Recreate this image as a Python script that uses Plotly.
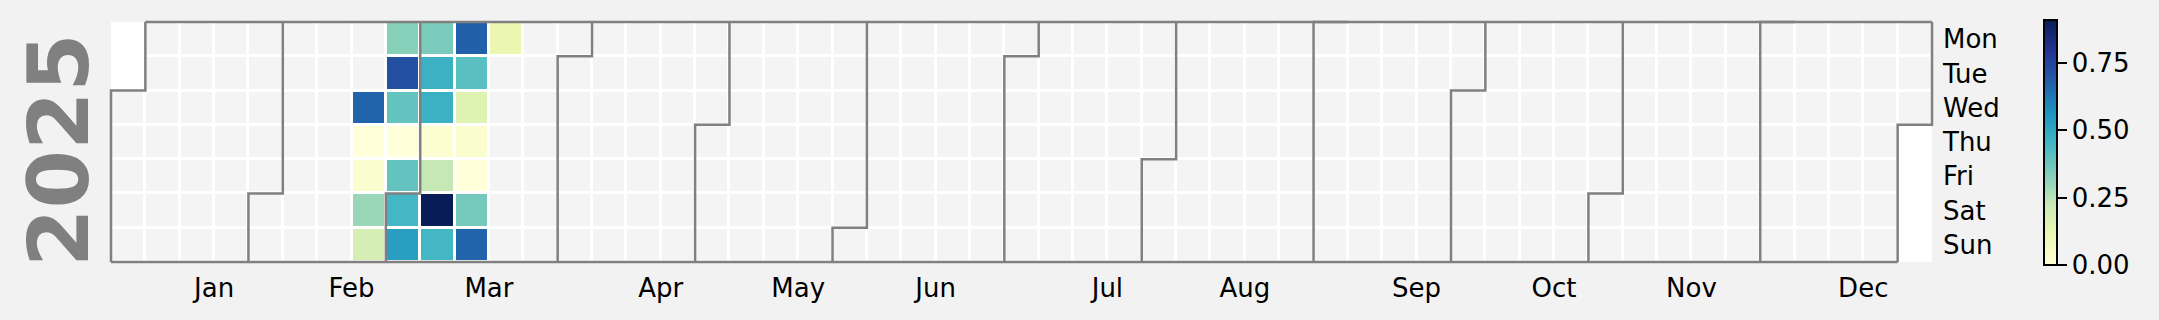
import numpy as np
import pandas as pd
import plotly.graph_objects as go

# ---- data ----
year = 2025
dates = ["2025-02-19", "2025-02-20", "2025-02-21", "2025-02-22", "2025-02-23",
         "2025-02-24", "2025-02-25", "2025-02-26", "2025-02-27", "2025-02-28",
         "2025-03-01", "2025-03-02", "2025-03-03", "2025-03-04", "2025-03-05",
         "2025-03-06", "2025-03-07", "2025-03-08", "2025-03-09", "2025-03-10",
         "2025-03-11", "2025-03-12", "2025-03-13", "2025-03-14", "2025-03-15",
         "2025-03-16", "2025-03-17"]
values = [0.67, 0.00, 0.03, 0.30, 0.19,
          0.33, 0.72, 0.39, 0.00, 0.39,
          0.45, 0.53, 0.35, 0.47, 0.47,
          0.02, 0.23, 0.91, 0.45, 0.68,
          0.41, 0.16, 0.03, 0.00, 0.36,
          0.67, 0.12]
day_labels = ["Mon", "Tue", "Wed", "Thu", "Fri", "Sat", "Sun"]
month_labels = ["Jan", "Feb", "Mar", "Apr", "May", "Jun",
                "Jul", "Aug", "Sep", "Oct", "Nov", "Dec"]
cbar_ticks = [0.0, 0.25, 0.5, 0.75]
ylgnbu = ["#ffffd9", "#edf8b1", "#c7e9b4", "#7fcdbb", "#41b6c4",
          "#1d91c0", "#225ea8", "#253494", "#081d58"]

# ---- calendar geometry ----
jan1 = pd.Timestamp(year, 1, 1)
dec31 = pd.Timestamp(year, 12, 31)
start_monday = jan1 - pd.Timedelta(days=jan1.weekday())


def col(d):
    return (d - start_monday).days // 7


ncols = col(dec31) + 1
all_days = pd.date_range(jan1, dec31, freq="D")

base = np.full((7, ncols), np.nan)
for d in all_days:
    base[d.weekday(), col(d)] = 1.0

data = np.full((7, ncols), np.nan)
for ds, v in zip(dates, values):
    d = pd.Timestamp(ds)
    data[d.weekday(), col(d)] = v

xs = list(range(ncols))
ys = list(range(7))

# month boundary lines
lx, ly = [], []
for m in range(1, 13):
    first = pd.Timestamp(year, m, 1)
    c, w = col(first), first.weekday()
    lx += [c - 0.5, c - 0.5, c + 0.5, c + 0.5, None]
    ly += [6.5, w - 0.5, w - 0.5, -0.5, None]
c, w = col(dec31), dec31.weekday()
lx += [c + 0.5, c + 0.5, c - 0.5, c - 0.5, None]
ly += [-0.5, w + 0.5, w + 0.5, 6.5, None]
top_start = col(jan1) - 0.5 + (1 if jan1.weekday() > 0 else 0)
lx += [top_start, col(dec31) + 0.5, None]
ly += [-0.5, -0.5, None]
bot_end = col(dec31) - 0.5 + (1 if dec31.weekday() == 6 else 0)
lx += [-0.5, bot_end, None]
ly += [6.5, 6.5, None]

month_ticks = [col(pd.Timestamp(year, m, 15)) + 0.5 for m in range(1, 13)]

# ---- pixel layout ----
W, H = 2159, 320
grid_l, grid_r, grid_t, grid_b = 111, 1932, 22, 262
pad = 4
px_x = (grid_r - grid_l) / ncols
px_y = (grid_b - grid_t) / 7
ml, mr, mt, mb = grid_l - pad, W - grid_r - pad, grid_t - pad, H - grid_b - pad
pw = W - ml - mr
ph = H - mt - mb

font = "DejaVu Sans"
cs = [[i / (len(ylgnbu) - 1), c_] for i, c_ in enumerate(ylgnbu)]

fig = go.Figure()
fig.add_trace(go.Heatmap(
    z=base, x=xs, y=ys, colorscale=[[0, "#f4f4f4"], [1, "#f4f4f4"]],
    showscale=False, xgap=3, ygap=3, hoverinfo="skip"))
fig.add_trace(go.Heatmap(
    z=data, x=xs, y=ys, colorscale=cs, zmin=0, zmax=max(values),
    xgap=3, ygap=3,
    colorbar=dict(
        thickness=13, len=245, lenmode="pixels",
        x=(2044 - ml) / pw, xanchor="left", xpad=0,
        y=(H - mb - 142.5) / ph, yanchor="middle", ypad=0,
        outlinewidth=2, outlinecolor="black",
        ticks="outside", ticklen=9, tickwidth=2, tickcolor="black",
        tickvals=cbar_ticks, tickformat=".2f",
        tickfont=dict(size=26, family=font, color="black"),
    )))
fig.add_trace(go.Scatter(
    x=lx, y=ly, mode="lines", line=dict(color="#808080", width=2.5),
    hoverinfo="skip", showlegend=False))

fig.add_shape(type="rect", xref="x", yref="y", x0=-0.5, x1=ncols - 0.5,
              y0=-0.5, y1=6.5, fillcolor="white", line=dict(width=0),
              layer="below")

fig.add_annotation(
    text="<b>%d</b>" % year, xref="paper", yref="paper",
    x=(59 - ml) / pw, y=(H - mb - 150) / ph, xanchor="center", yanchor="middle",
    textangle=-90, showarrow=False,
    font=dict(size=84, family=font, color="#808080"))

fig.update_layout(
    width=W, height=H,
    margin=dict(l=ml, r=mr, t=mt, b=mb, pad=0),
    paper_bgcolor="#f2f2f2", plot_bgcolor="#f2f2f2",
    showlegend=False,
    xaxis=dict(range=[-0.5 - pad / px_x, ncols - 0.5 + pad / px_x],
               tickvals=month_ticks, ticktext=month_labels,
               showgrid=False, zeroline=False, showline=False, ticks="",
               ticklabelstandoff=4,
               tickfont=dict(size=26, family=font, color="black")),
    yaxis=dict(range=[6.5 + pad / px_y, -0.5 - pad / px_y],
               tickvals=ys, ticktext=day_labels, side="right",
               showgrid=False, zeroline=False, showline=False, ticks="",
               ticklabelstandoff=6,
               tickfont=dict(size=26, family=font, color="black")),
)

fig.write_html("out.html")
